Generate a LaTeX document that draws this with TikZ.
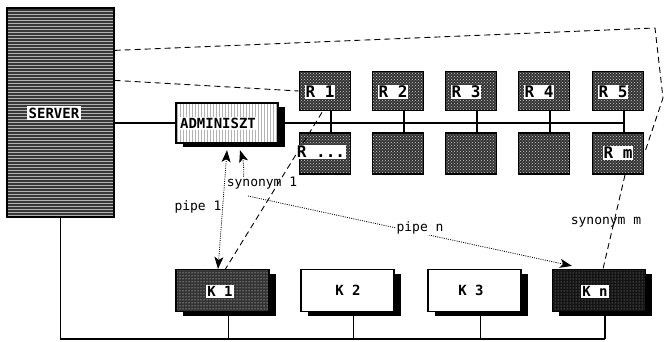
\documentclass[tikz,border=0pt]{standalone}
\usepackage{fontspec}
\setmonofont{DejaVu Sans Mono}
\usetikzlibrary{patterns,shadows,arrows.meta,calc}
\begin{document}
\begin{tikzpicture}[x=1pt,y=-1pt,
  serverbox/.style={draw=black, line width=1.2pt, inner sep=0pt, preaction={fill=black!78}, pattern=horizontal lines, pattern color=gray!60},
  adminbox/.style={draw=black, line width=1.4pt, inner sep=0pt, drop shadow={shadow xshift=6.5pt, shadow yshift=-4.5pt, opacity=1, fill=black}, preaction={fill=white}, pattern=vertical lines, pattern color=gray!60},
  rbox/.style={draw=black, line width=1.8pt, inner sep=0pt, minimum width=51pt, preaction={fill=black!80}, pattern=crosshatch dots, pattern color=white!80!black},
  kbase/.style={draw=black, line width=1.2pt, inner sep=0pt, minimum width=93pt, minimum height=42pt, drop shadow={shadow xshift=6.5pt, shadow yshift=-4pt, opacity=1, fill=black}},
  kwhite/.style={kbase, fill=white},
  kdark/.style={kbase, preaction={fill=black!80}, pattern=dots, pattern color=white},
  kblack/.style={kbase, preaction={fill=black!92}, pattern=dots, pattern color=gray!70},
  bus/.style={line width=1.6pt},
  conn/.style={line width=1.2pt},
  dashln/.style={dash pattern=on 6pt off 4pt, line width=0.9pt},
  dotln/.style={dash pattern=on 1pt off 1.2pt, line width=0.8pt},
  tipsty/.style={-{Stealth[length=12pt,width=9pt,inset=3pt]}},
  bothtips/.style={{Stealth[length=12pt,width=9pt,inset=3pt]}-{Stealth[length=12pt,width=9pt,inset=3pt]}},
  lbl/.style={font=\ttfamily\fontsize{13}{15}\selectfont, inner sep=1pt},
  tag/.style={font=\ttfamily\bfseries\fontsize{14}{16}\selectfont, fill=white, inner sep=1.5pt},
  rtag/.style={font=\ttfamily\bfseries\fontsize{16}{18}\selectfont, fill=white, inner sep=1pt},
  ktag/.style={font=\ttfamily\bfseries\fontsize{14}{16}\selectfont, fill=white, inner sep=1.2pt}
]
\useasboundingbox (0,0) rectangle (664,342);

% server and administrator
\node[serverbox, minimum width=107pt, minimum height=209pt] (server) at (60.5,112.5) {};
\node[adminbox, minimum width=102pt, minimum height=40pt] (admin) at (227,123) {};

% R boxes
\foreach \i/\x in {1/325,2/398,3/471,4/544,5/618}{
  \node[rbox, minimum height=39pt] (r\i) at (\x,91) {};
  \node[rbox, minimum height=41pt] (rb\i) at (\x,153.5) {};
}

% K boxes
\node[kdark]  (k1) at (222.5,290.5) {};
\node[kwhite] (k2) at (347.5,290.5) {};
\node[kwhite] (k3) at (474.5,290.5) {};
\node[kblack] (kn) at (599,290.5) {};

% coordinates
\coordinate (busend) at (624,123);
\coordinate (br) at (605,339);
\coordinate (pn) at (248,196);
\coordinate (ptop) at (655,28);
\coordinate (pright) at (663,98);

% bus
\draw[bus] (server.east |- admin.west) -- (admin.west);
\draw[bus] (admin.east) -- (busend);
\foreach \i in {1,...,5}{
  \draw[conn] ($(r\i.south)+(6,0)$) -- ($(rb\i.north)+(6,0)$);
}

% bottom line
\draw[conn] (server.south) |- (br);
\foreach \k in {k1,k2,k3,kn}{
  \path (\k.south) ++(6,4) coordinate (\k s);
  \draw[conn] (\k s) -- (\k s |- br);
}

% dashed outline from server
\draw[dashln] ($(server.north east)+(0,43)$) -- (ptop) -- (pright) -- (rb5.east);
\draw[dashln] ($(server.north east)+(0,73)$) -- (r1.west);

% synonym lines
\draw[dashln] ($(r1.south)+(-3,1)$) -- ($(k1.north)+(3,0)$);
\draw[dashln] ($(rb5.south)+(7,0)$) -- ($(kn.north)+(4,0)$);

% pipes
\draw[dotln, bothtips] ($(admin.south)+(0,6.5)$) -- ($(k1.north)+(-4.5,0)$);
\node[lbl] (syn1) at (262,183) {synonym 1};
\path (syn1.north west) ++(18,1) coordinate (s1a);
\draw[dotln, tipsty] (s1a) to[bend right=10] ($(admin.south)+(13,6.5)$);
\draw[dotln, tipsty] (pn) -- ($(kn.north west)+(20,-3)$);

% labels
\node[tag] (srvlab) at (54,113) {SERVER};
\node[tag] (admlab) at (218,123.5) {ADMINISZT};
\foreach \i/\x in {1/320,2/393,3/466,4/539,5/613}{
  \node[rtag] at (\x,92) {R \i};
}
\node[rtag] (rdots) at (321,152) {R ...};
\node[rtag] (rm) at (618,153) {R m};

\node[ktag] (k1lab) at (220,291.5) {K 1};
\node[ktag] (k2lab) at (348,290.5) {K 2};
\node[ktag] (k3lab) at (471,290.5) {K 3};
\node[ktag] (knlab) at (595,291.5) {K n};

\node[lbl] (pipe1) at (198,207) {pipe 1};
\node[lbl, fill=white] (pipen) at (420,228) {pipe n};
\node[lbl] (synm) at (606,222) {synonym m};
\end{tikzpicture}
\end{document}
